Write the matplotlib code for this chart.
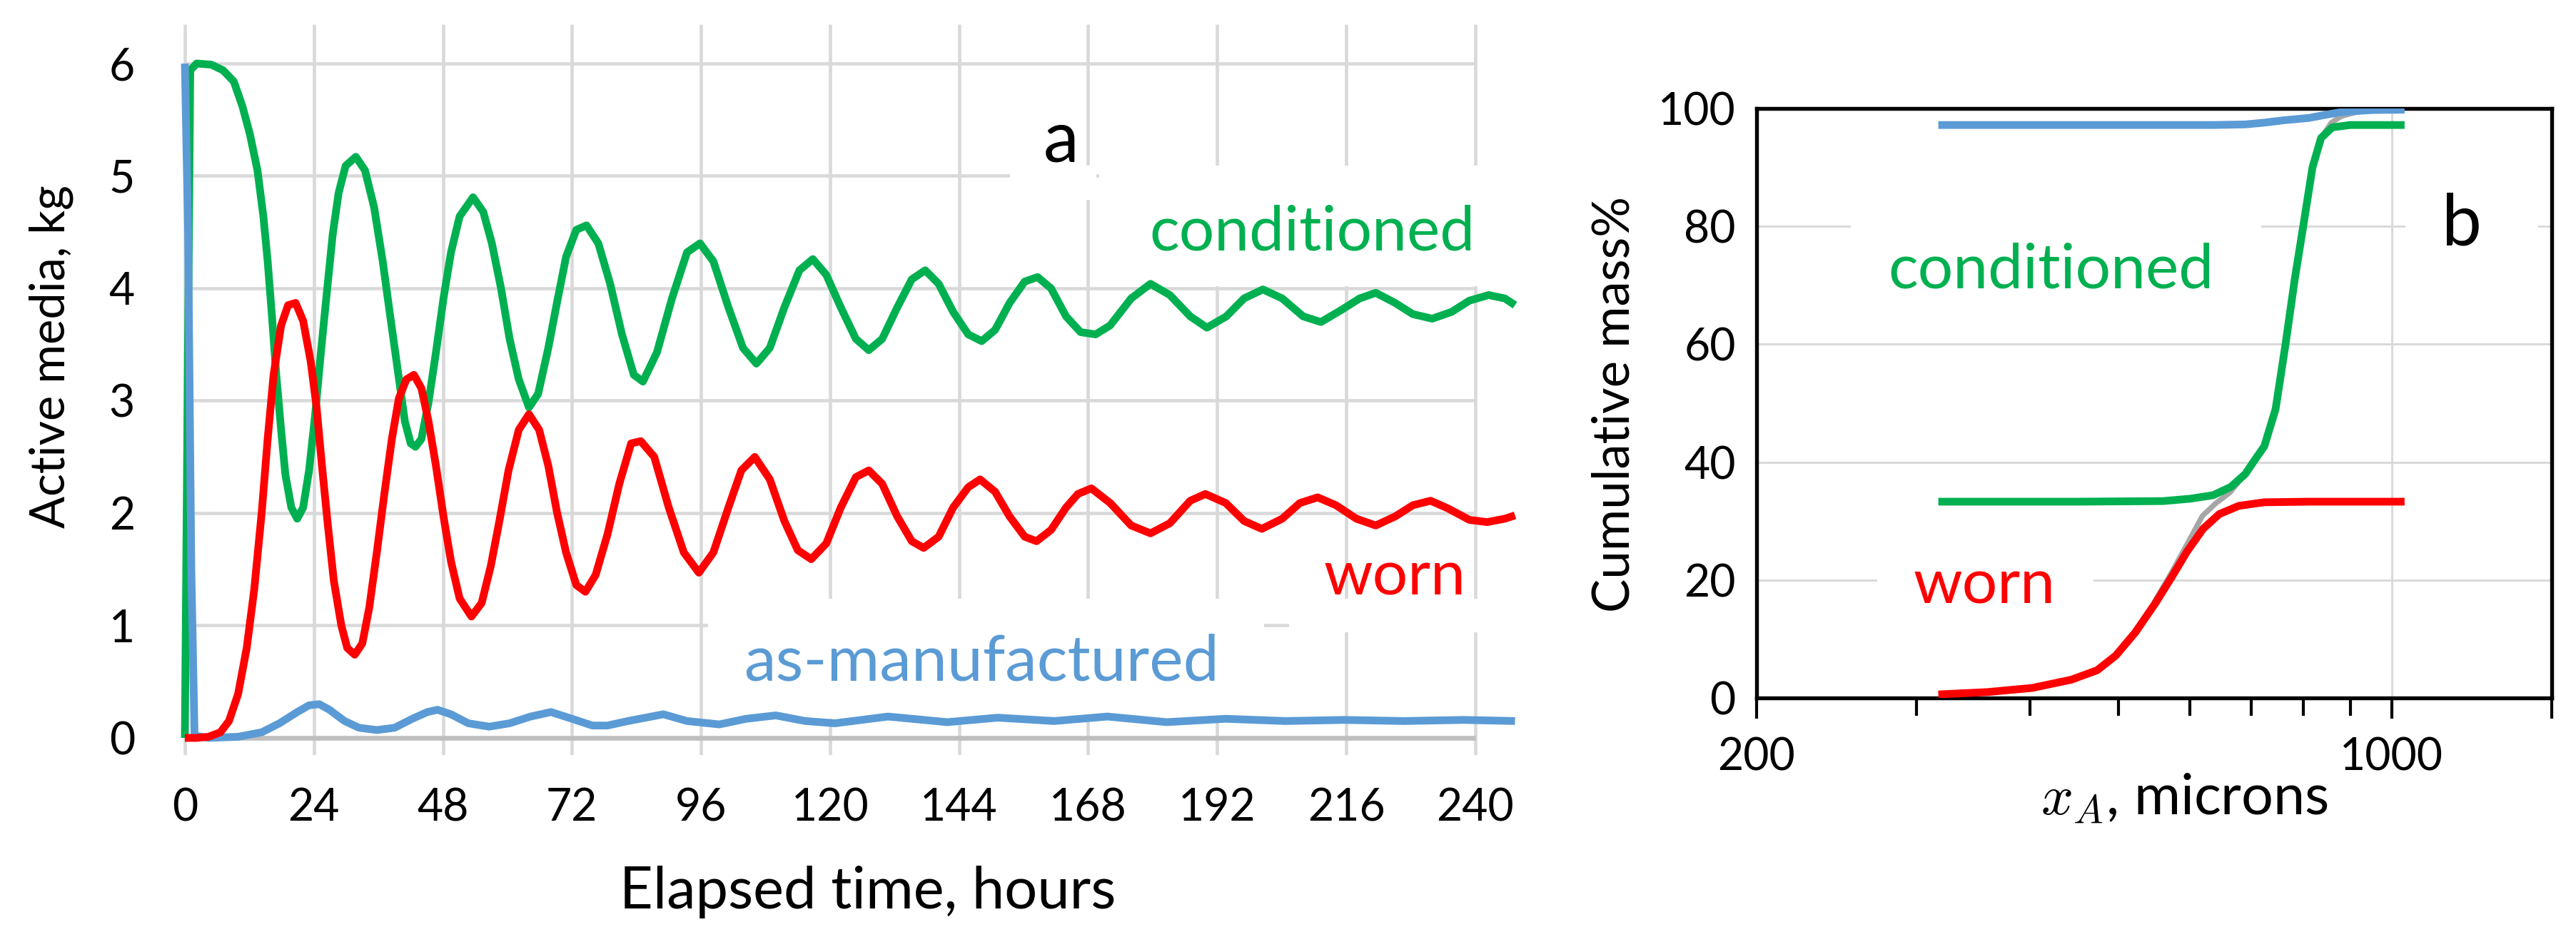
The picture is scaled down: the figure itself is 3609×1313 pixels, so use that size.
import matplotlib
matplotlib.use("agg")
import matplotlib.pyplot as plt
from matplotlib.patches import Rectangle
from matplotlib.ticker import FixedLocator, NullFormatter

# ---- panel a: active media vs elapsed time ----
t_cond = [0, 1.0, 2.2, 4.9, 7.1, 9.1, 10.7, 12.1, 13.5, 14.6, 15.4, 16.2, 17.0, 17.9, 18.7, 19.8,
          20.9, 22.0, 23.1, 24.2, 25.3, 26.4, 27.5, 28.6, 29.9, 31.8, 33.5, 35.2, 36.8, 38.2, 39.6,
          40.9, 42.0, 42.9, 44.0, 45.3, 46.7, 48.1, 49.5, 51.1, 53.6, 55.5, 57.1, 58.8, 60.4, 62.1,
          64.0, 65.7, 67.6, 69.2, 70.9, 72.8, 74.7, 76.9, 79.1, 81.3, 83.5, 85.2, 87.8, 90.6, 93.4,
          95.8, 98.3, 101.1, 103.8, 106.3, 108.8, 111.5, 114.3, 116.8, 119.3, 122.0, 124.8, 127.2,
          129.7, 132.5, 135.2, 137.7, 140.2, 142.9, 145.7, 148.2, 150.7, 153.4, 156.2, 158.6, 161.1,
          163.9, 166.6, 169.4, 172.1, 176.0, 179.6, 183.2, 187.0, 190.1, 193.7, 197.0, 200.5, 204.1,
          208.0, 211.3, 215.2, 218.5, 221.5, 225.1, 228.4, 232.0, 235.6, 238.9, 242.5, 245.5, 247.4]
v_cond = [0, 5.94, 6.0, 5.99, 5.94, 5.84, 5.62, 5.37, 5.05, 4.64, 4.24, 3.75, 3.23, 2.74, 2.34, 2.05,
          1.95, 2.05, 2.38, 2.86, 3.43, 3.96, 4.48, 4.85, 5.09, 5.17, 5.05, 4.72, 4.24, 3.75, 3.27,
          2.82, 2.62, 2.59, 2.66, 2.98, 3.43, 3.91, 4.32, 4.64, 4.81, 4.68, 4.40, 4.00, 3.55, 3.19,
          2.94, 3.06, 3.47, 3.87, 4.28, 4.52, 4.56, 4.40, 4.04, 3.59, 3.23, 3.17, 3.43, 3.91, 4.32,
          4.40, 4.24, 3.83, 3.47, 3.33, 3.47, 3.83, 4.16, 4.26, 4.12, 3.83, 3.55, 3.45,
          3.55, 3.83, 4.08, 4.16, 4.04, 3.79, 3.59, 3.53, 3.63, 3.87, 4.06, 4.10, 4.00,
          3.75, 3.61, 3.59, 3.67, 3.91, 4.04, 3.94, 3.75, 3.65, 3.75, 3.91, 3.99, 3.91,
          3.75, 3.70, 3.81, 3.91, 3.96, 3.87, 3.77, 3.73, 3.79, 3.89, 3.94, 3.91, 3.85]

t_worn = [0, 2.2, 4.4, 6.6, 8.2, 9.9, 11.5, 12.9, 14.3, 15.4, 16.5, 17.9, 19.2, 20.6, 22.0, 23.4,
          24.5, 25.5, 26.6, 27.7, 29.1, 30.2, 31.6, 33.0, 34.3, 35.7, 37.1, 38.5, 39.8, 41.2, 42.6,
          44.0, 45.3, 46.7, 48.1, 49.5, 51.1, 53.3, 55.2, 56.9, 58.5, 60.2, 62.1, 64.0, 65.9, 67.6,
          69.2, 70.9, 72.8, 74.5, 76.4, 78.6, 80.8, 83.0, 84.8, 87.3, 90.0, 92.8, 95.6, 98.3, 101.1,
          103.5, 106.0, 108.8, 111.5, 114.0, 116.5, 119.3, 122.0, 124.8, 127.2, 129.7, 132.5, 135.2,
          137.4, 140.2, 142.9, 145.7, 147.9, 150.7, 153.4, 156.2, 158.4, 161.1, 163.9, 166.1, 168.6,
          172.1, 176.0, 179.6, 183.2, 187.0, 189.8, 193.6, 197.0, 200.3, 204.1, 207.4, 210.7, 214.1,
          217.9, 221.5, 225.1, 228.4, 231.7, 235.0, 238.9, 242.2, 245.5, 247.4]
v_worn = [0, 0, 0.01, 0.05, 0.15, 0.39, 0.80, 1.32, 2.01, 2.66, 3.23, 3.67, 3.85, 3.87, 3.71, 3.35,
          2.94, 2.42, 1.89, 1.40, 1.00, 0.80, 0.74, 0.84, 1.16, 1.65, 2.17, 2.66, 3.02, 3.19, 3.23,
          3.11, 2.82, 2.42, 1.97, 1.57, 1.24, 1.08, 1.20, 1.53, 1.93, 2.38, 2.74, 2.88, 2.74, 2.42,
          2.01, 1.65, 1.36, 1.30, 1.45, 1.81, 2.26, 2.62, 2.64, 2.50, 2.05, 1.65, 1.47, 1.65, 2.05,
          2.38, 2.50, 2.30, 1.93, 1.67, 1.59, 1.73, 2.05, 2.32, 2.38, 2.26, 1.97, 1.75,
          1.69, 1.79, 2.05, 2.23, 2.30, 2.19, 1.97, 1.79, 1.75, 1.85, 2.05, 2.17, 2.22,
          2.09, 1.89, 1.82, 1.91, 2.11, 2.17, 2.09, 1.93, 1.86, 1.95, 2.09, 2.14, 2.07,
          1.95, 1.89, 1.97, 2.07, 2.11, 2.04, 1.94, 1.92, 1.95, 1.98]

t_new = [0, 0.6, 1.2, 1.8, 4.4, 9.9, 14.3, 17.6, 20.9, 23.1, 25.0, 26.9, 29.7, 32.4, 35.7, 39.0,
         42.3, 45.1, 47.0, 49.5, 52.7, 56.6, 60.4, 64.3, 68.1, 72.0, 75.8, 78.6, 82.4, 89.0, 93.4,
         99.4, 104.4, 109.9, 115.4, 120.9, 130.8, 141.8, 151.2, 161.7, 171.6, 182.6, 193.6, 204.7,
         215.7, 226.7, 237.8, 247.4]
v_new = [6.0, 4.5, 1.5, 0.02, 0.0, 0.01, 0.05, 0.13, 0.23, 0.29, 0.30, 0.25, 0.15, 0.09, 0.07, 0.09,
         0.17, 0.23, 0.25, 0.21, 0.13, 0.10, 0.13, 0.19, 0.23, 0.17, 0.11, 0.11, 0.15, 0.21, 0.15,
         0.12, 0.17, 0.20, 0.15, 0.13, 0.19, 0.14, 0.18, 0.15, 0.19, 0.14, 0.17, 0.15,
         0.16, 0.15, 0.16, 0.15]

hour_ticks = list(range(0, 241, 24))
kg_ticks = [0, 1, 2, 3, 4, 5, 6]

# ---- panel b: cumulative size distribution ----
x_worn_b = [317, 359, 402, 444, 474, 497, 522, 549, 572, 595, 620, 646, 679, 724, 812, 1033]
y_worn_b = [0.6, 1.0, 1.7, 3.1, 4.7, 7.2, 11.1, 16.0, 20.4, 24.8, 28.7, 31.2, 32.6, 33.2, 33.3, 33.3]
x_cond_b = [317, 450, 560, 600, 636, 665, 690, 704, 724, 745, 764, 782, 799, 818, 836, 860, 900, 1033]
y_cond_b = [33.3, 33.3, 33.4, 33.8, 34.4, 35.8, 38.0, 40.0, 42.7, 49.0, 60.0, 71.0, 80.0, 90.0,
            95.0, 96.8, 97.2, 97.2]
x_new_b = [317, 636, 690, 724, 760, 811, 850, 881, 920, 955, 1033]
y_new_b = [97.2, 97.2, 97.3, 97.6, 98.0, 98.4, 99.0, 99.4, 99.6, 99.75, 99.8]
x_tot_b = [549, 572, 595, 619, 640, 664, 690, 704, 724, 745, 764, 782, 799, 818, 836, 858, 880, 920]
y_tot_b = [16.5, 21.2, 26.0, 30.9, 33.0, 34.9, 38.0, 40.0, 42.7, 49.0, 60.0, 71.0, 80.0, 90.0,
           95.0, 97.6, 98.7, 99.5]

GREEN = "#00b050"
RED = "#ff0000"
BLUE = "#5b9bd5"
GRID = "#d9d9d9"

plt.rcParams["font.family"] = ["Lato", "DejaVu Sans"]
plt.rcParams["mathtext.fontset"] = "cm"

fig = plt.figure(figsize=(3609 / 300, 1313 / 300), dpi=300)

line_kw = dict(lw=2.6, solid_joinstyle="round", solid_capstyle="butt")

# panel a
ax = fig.add_axes([0.06968, 0.1945, 0.5197, 0.7797])
ax.set_xlim(-1, 248)
ax.set_ylim(-0.15, 6.35)
for s in ax.spines.values():
    s.set_visible(False)

ax.vlines(hour_ticks, -0.15, 6.35, color=GRID, lw=1.1, zorder=1)
ax.hlines(kg_ticks[1:], 0, 240, color=GRID, lw=1.1, zorder=1)
ax.hlines(0, 0, 240, color="#bfbfbf", lw=1.6, zorder=1)

# white text boxes that mask the grid
for x0, y0, w, h in [(153.5, 4.79, 16.0, 0.30), (170.0, 4.02, 80.0, 1.07),
                     (97.3, 0.17, 103.4, 1.07), (205.4, 0.94, 40.0, 0.30)]:
    ax.add_patch(Rectangle((x0, y0), w, h, facecolor="white", edgecolor="none", zorder=2))

ax.plot(t_cond, v_cond, color=GREEN, zorder=3, clip_on=False, **line_kw)
ax.plot(t_new, v_new, color=BLUE, zorder=3, clip_on=False, **line_kw)
ax.plot(t_worn, v_worn, color=RED, zorder=4, clip_on=False, **line_kw)

ax.set_xticks(hour_ticks)
ax.set_yticks(kg_ticks)
ax.tick_params(axis="both", length=0, labelsize=15)
ax.tick_params(axis="x", pad=11)
ax.tick_params(axis="y", pad=15)

ax.text(163, 5.13, "a", fontsize=24, ha="center", va="baseline", zorder=5)
ax.text(240, 4.34, "conditioned", fontsize=21, color=GREEN, ha="right", va="baseline", zorder=5)
ax.text(238.2, 1.276, "worn", fontsize=21, color=RED, ha="right", va="baseline", zorder=5)
ax.text(103.9, 0.514, "as-manufactured", fontsize=21.5, color=BLUE, ha="left", va="baseline", zorder=5)

fig.text(1216 / 3609, 40 / 1313, "Elapsed time, hours", fontsize=19.5, ha="center", va="baseline")
fig.text(72 / 3609, 1 - 500 / 1313, "Active media, kg", fontsize=16, rotation=90,
         ha="center", va="center")

# panel b
bx = fig.add_axes([0.6819, 0.2551, 0.3087, 0.6291])
bx.set_xscale("log")
bx.set_xlim(200, 1500)
bx.set_ylim(0, 100)
for s in bx.spines.values():
    s.set_linewidth(1.3)

bx.set_yticks([0, 20, 40, 60, 80, 100])
bx.xaxis.set_major_locator(FixedLocator([200, 1000, 1500]))
bx.set_xticklabels(["200", "1000", ""])
bx.xaxis.set_minor_locator(FixedLocator([300, 400, 500, 600, 700, 800, 900]))
bx.xaxis.set_minor_formatter(NullFormatter())
bx.tick_params(axis="y", length=0, labelsize=15, pad=7)
bx.tick_params(axis="x", which="major", direction="out", length=7, width=1.0, labelsize=15, pad=6)
bx.tick_params(axis="x", which="minor", direction="out", length=6, width=1.0)

bx.hlines([20, 40, 60, 80], 200, 1500, color=GRID, lw=0.7, zorder=1)
bx.vlines(1000, 0, 100, color=GRID, lw=0.7, zorder=1)

for x0, x1, y0, y1 in [(254, 718, 66, 83), (1036, 1449, 72, 85), (271.5, 469.5, 12, 23)]:
    bx.add_patch(Rectangle((x0, y0), x1 - x0, y1 - y0, facecolor="white", edgecolor="none", zorder=2))

bx.plot(x_tot_b, y_tot_b, color="#a6a6a6", lw=1.8, zorder=3, solid_joinstyle="round")
bx.plot(x_worn_b, y_worn_b, color=RED, zorder=4, **line_kw)
bx.plot(x_cond_b, y_cond_b, color=GREEN, zorder=4, **line_kw)
bx.plot(x_new_b, y_new_b, color=BLUE, zorder=4, **line_kw)

bx.text(422, 69.5, "conditioned", fontsize=21, color=GREEN, ha="center", va="baseline", zorder=5)
bx.text(1193, 76.8, "b", fontsize=24, ha="center", va="baseline", zorder=5)
bx.text(356, 16.0, "worn", fontsize=21, color=RED, ha="center", va="baseline", zorder=5)

fig.text(3060 / 3609, 1 - 1141 / 1313, r"$x_A$, microns", fontsize=19, ha="center", va="baseline")
fig.text(2262 / 3609, 1 - 567 / 1313, "Cumulative mass%", fontsize=17, rotation=90,
         ha="center", va="center")

fig.savefig("out.png", dpi=300, facecolor="white")
